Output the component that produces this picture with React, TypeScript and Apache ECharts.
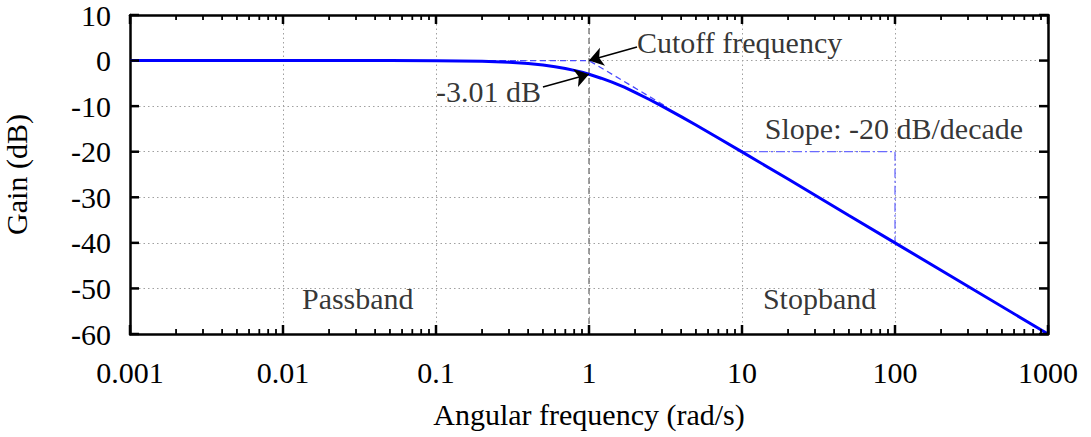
import React, { useEffect, useRef } from "react";
import * as echarts from "echarts";

// ---- data ----
const xTickValues = [0.001, 0.01, 0.1, 1, 10, 100, 1000];
const xTickLabels = ["0.001", "0.01", "0.1", "1", "10", "100", "1000"];
const yTickValues = [-60, -50, -40, -30, -20, -10, 0, 10];
const yTickLabels = ["-60", "-50", "-40", "-30", "-20", "-10", "0", "10"];

const freq = [0.001, 0.01, 0.05, 0.1, 0.2, 0.3, 0.4, 0.5, 0.6, 0.7, 0.8, 0.9, 1, 1.2, 1.4, 1.7, 2, 2.5, 3, 4, 5, 7, 10, 20, 50, 100, 1000];
const gain = [0, 0, -0.01, -0.04, -0.17, -0.37, -0.64, -0.97, -1.34, -1.73, -2.15, -2.57, -3.01, -3.87, -4.68, -5.84, -6.99, -8.6, -10.0, -12.3, -14.15, -17.0, -20.04, -26.0, -34.0, -40.0, -60.0];

const asymptoteX = [0.001, 1, 3.2];
const asymptoteY = [0, 0, -10.1];

const slopeX = [10, 100, 100];
const slopeY = [-20, -20, -40];

const cutoffX = [1, 1];
const cutoffY = [-60, 10];

const minorTickValues = [
  0.002, 0.003, 0.004, 0.005, 0.006, 0.007, 0.008, 0.009,
  0.02, 0.03, 0.04, 0.05, 0.06, 0.07, 0.08, 0.09,
  0.2, 0.3, 0.4, 0.5, 0.6, 0.7, 0.8, 0.9,
  2, 3, 4, 5, 6, 7, 8, 9,
  20, 30, 40, 50, 60, 70, 80, 90,
  200, 300, 400, 500, 600, 700, 800, 900,
];

// annotation texts: [x, y, text, side]
const annotations: [number, number, string, string][] = [
  [2.06, 3.86, "Cutoff frequency", "right"],
  [0.485, -6.8, "-3.01 dB", "left"],
  [14.1, -14.8, "Slope: -20 dB/decade", "right"],
  [0.0133, -52.3, "Passband", "right"],
  [13.7, -52.3, "Stopband", "right"],
];

// arrows: [tailX, tailY, headX, headY]
const arrows: [number, number, number, number][] = [
  [2.06, 2.98, 1, 0],
  [0.5, -5.8, 1, -3.01],
];

const FONT = "'Liberation Serif', 'Times New Roman', Times, serif";

export default function App() {
  const ref = useRef<HTMLDivElement>(null);
  useEffect(() => {
    if (!ref.current) return;
    const chart = echarts.init(ref.current, null, { renderer: "svg" });
    const textStyle = { fontFamily: FONT, fontSize: 30, color: "#000" };
    const frameLine = { show: true, onZero: false, lineStyle: { color: "#000", width: 2.5 } };
    const gridLine = { show: true, lineStyle: { color: "#a0a0a0", type: [1.5, 3], width: 1 } };
    const tickStyle = { stroke: "#000", lineWidth: 2.5 };
    const minorStyle = { stroke: "#000", lineWidth: 1.8 };

    const option: any = {
      animation: false,
      backgroundColor: "#fff",
      textStyle: { fontFamily: FONT },
      grid: { left: 130, top: 15, right: 43, bottom: 103, containLabel: false, outerBoundsMode: "none" },
      xAxis: [
        {
          type: "log",
          logBase: 10,
          min: 0.001,
          max: 1000,
          splitNumber: 6,
          position: "bottom",
          axisLine: frameLine,
          axisTick: { show: false },
          minorTick: { show: false },
          axisLabel: {
            ...textStyle,
            margin: 23,
            formatter: (v: number) => {
              const i = Math.round(Math.log10(v)) + 3;
              return xTickLabels[i] ?? "";
            },
          },
          splitLine: gridLine,
          name: "Angular frequency (rad/s)",
          nameLocation: "middle",
          nameGap: 65,
          nameTextStyle: textStyle,
        },
        {
          type: "log",
          logBase: 10,
          min: 0.001,
          max: 1000,
          splitNumber: 6,
          position: "top",
          axisLine: frameLine,
          axisTick: { show: false },
          axisLabel: { show: false },
          splitLine: { show: false },
        },
      ],
      yAxis: [
        {
          type: "value",
          min: -60,
          max: 10,
          interval: 10,
          position: "left",
          axisLine: frameLine,
          axisTick: { show: false },
          axisLabel: {
            ...textStyle,
            margin: 19,
            formatter: (v: number) => yTickLabels[Math.round((v + 60) / 10)] ?? "",
          },
          splitLine: gridLine,
          name: "Gain (dB)",
          nameLocation: "middle",
          nameGap: 99,
          nameTextStyle: textStyle,
        },
        {
          type: "value",
          min: -60,
          max: 10,
          interval: 10,
          position: "right",
          axisLine: frameLine,
          axisTick: { show: false },
          axisLabel: { show: false },
          splitLine: { show: false },
        },
      ],
      series: [
        {
          name: "cutoff",
          type: "line",
          data: cutoffX.map((x, i) => [x, cutoffY[i]]),
          symbol: "none",
          silent: true,
          lineStyle: { color: "#808080", width: 1.5, type: [6, 4] },
          z: 2,
        },
        {
          name: "asymptote",
          type: "line",
          data: asymptoteX.map((x, i) => [x, asymptoteY[i]]),
          symbol: "none",
          silent: true,
          lineStyle: { color: "#4a4aff", width: 1.3, type: [6, 4] },
          z: 3,
        },
        {
          name: "slope",
          type: "line",
          data: slopeX.map((x, i) => [x, slopeY[i]]),
          symbol: "none",
          silent: true,
          lineStyle: { color: "#6a6aff", width: 1.3, type: [9, 3, 2, 3] },
          z: 3,
        },
        {
          name: "gain",
          type: "line",
          data: freq.map((x, i) => [x, gain[i]]),
          symbol: "none",
          smooth: false,
          silent: true,
          lineStyle: { color: "#0000ff", width: 3 },
          z: 4,
          markLine: {
            silent: true,
            symbol: ["none", "arrow"],
            symbolSize: 14,
            label: { show: false },
            lineStyle: { color: "#000", width: 1.5, type: "solid" },
            itemStyle: { color: "#000" },
            emphasis: { disabled: true },
            data: arrows.map((a) => [
              { coord: [a[0], a[1]] },
              { coord: [a[2], a[3]] },
            ]),
          },
        },
        {
          name: "annotations",
          type: "scatter",
          symbolSize: 0,
          silent: true,
          z: 6,
          data: annotations.map((a) => ({
            value: [a[0], a[1]],
            label: {
              show: true,
              position: a[3],
              distance: 0,
              formatter: a[2],
              ...textStyle,
            },
          })),
        },
        {
          name: "xTicks",
          type: "custom",
          silent: true,
          clip: false,
          z: 8,
          data: xTickValues.map((v) => [v, -60, 9]).concat(minorTickValues.map((v) => [v, -60, 5])),
          renderItem: (params: any, api: any) => {
            const x = api.coord([api.value(0), -60])[0];
            const len = api.value(2);
            const cs = params.coordSys;
            const st = len > 6 ? tickStyle : minorStyle;
            return {
              type: "group",
              children: [
                { type: "line", shape: { x1: x, y1: cs.y + cs.height, x2: x, y2: cs.y + cs.height - len }, style: st },
                { type: "line", shape: { x1: x, y1: cs.y, x2: x, y2: cs.y + len }, style: st },
              ],
            };
          },
        },
        {
          name: "yTicks",
          type: "custom",
          silent: true,
          clip: false,
          z: 8,
          data: yTickValues.map((v) => [0.001, v]),
          renderItem: (params: any, api: any) => {
            const y = api.coord([0.001, api.value(1)])[1];
            const cs = params.coordSys;
            return {
              type: "group",
              children: [
                { type: "line", shape: { x1: cs.x, y1: y, x2: cs.x + 9, y2: y }, style: tickStyle },
                { type: "line", shape: { x1: cs.x + cs.width, y1: y, x2: cs.x + cs.width - 9, y2: y }, style: tickStyle },
              ],
            };
          },
        },
      ],
    };
    chart.setOption(option);
    return () => chart.dispose();
  }, []);
  return (
    <div
      ref={ref}
      style={{ position: "fixed", left: 0, top: 0, width: 1091, height: 437, background: "#fff" }}
    />
  );
}
